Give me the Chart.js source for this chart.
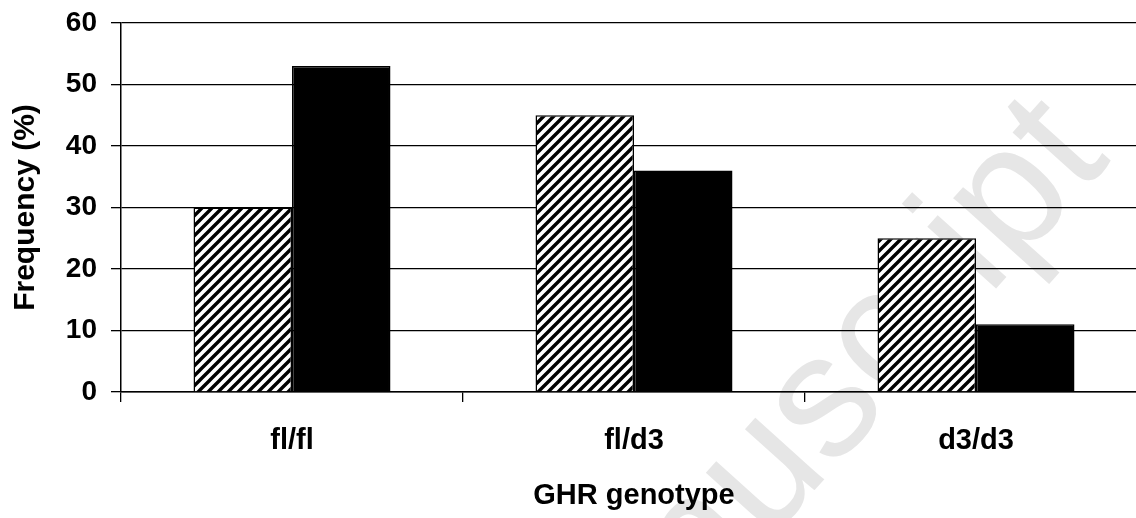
<!DOCTYPE html>
<html>
<head>
<meta charset="utf-8">
<script src="https://cdn.jsdelivr.net/npm/chart.js@4/dist/chart.umd.min.js"></script>
<style>
  html, body { margin: 0; padding: 0; background: #ffffff; overflow: hidden; }
  #wrap { position: relative; width: 1160px; height: 518px; }
</style>
</head>
<body>
<div id="wrap"><canvas id="c"></canvas></div>
<script>
// ---- data ----
const categories = ['fl/fl', 'fl/d3', 'd3/d3'];
const hatchedValues = [30, 45, 25];
const solidValues = [53, 36, 11];
const yTicks = [0, 10, 20, 30, 40, 50, 60];
const xTitle = 'GHR genotype';
const yTitle = 'Frequency (%)';
const watermarkText = 'Accepted Manuscript';

// ---- hatch pattern ----
function makeHatch() {
  const s = 10;
  const pc = document.createElement('canvas');
  pc.width = s; pc.height = s;
  const p = pc.getContext('2d');
  p.fillStyle = '#ffffff';
  p.fillRect(0, 0, s, s);
  p.strokeStyle = '#000000';
  p.lineWidth = 3.4;
  p.beginPath();
  p.moveTo(-2, s + 2); p.lineTo(s + 2, -2);
  p.moveTo(-2, 2); p.lineTo(2, -2);
  p.moveTo(s - 2, s + 2); p.lineTo(s + 2, s - 2);
  p.stroke();
  const ctx = document.getElementById('c').getContext('2d');
  return ctx.createPattern(pc, 'repeat');
}
const hatch = makeHatch();

const FONT = '"Liberation Sans", Arial, sans-serif';

const bgPlugin = {
  id: 'bgWatermark',
  beforeDraw(chart) {
    const ctx = chart.ctx;
    ctx.save();
    ctx.fillStyle = '#ffffff';
    ctx.fillRect(0, 0, chart.width, chart.height);
    ctx.translate(1112, 160);
    ctx.rotate(-48 * Math.PI / 180);
    ctx.font = '175px ' + FONT;
    ctx.fillStyle = '#e6e6e6';
    ctx.textAlign = 'right';
    ctx.textBaseline = 'alphabetic';
    ctx.fillText(watermarkText, 0, 0);
    ctx.restore();
  }
};

new Chart(document.getElementById('c'), {
  type: 'bar',
  data: {
    labels: categories,
    datasets: [
      {
        label: 'Hatched',
        data: hatchedValues,
        backgroundColor: hatch,
        borderColor: '#000000',
        borderWidth: 1.5,
        barPercentage: 1,
        categoryPercentage: 0.576
      },
      {
        label: 'Solid',
        data: solidValues,
        backgroundColor: '#000000',
        borderColor: '#000000',
        borderWidth: 1.5,
        barPercentage: 1,
        categoryPercentage: 0.576
      }
    ]
  },
  options: {
    responsive: true,
    maintainAspectRatio: false,
    animation: false,
    devicePixelRatio: 1,
    layout: { padding: { top: 23, right: 13, left: 0, bottom: 0 } },
    plugins: {
      legend: { display: false },
      tooltip: { enabled: false }
    },
    scales: {
      x: {
        afterFit(s) { s.height = 126; },
        grid: {
          display: true,
          drawOnChartArea: false,
          drawTicks: true,
          tickLength: 10,
          color: '#000000',
          lineWidth: 1.3,
          offset: true
        },
        border: { display: true, color: '#000000', width: 1.5 },
        ticks: {
          color: '#000000',
          padding: 22,
          font: { family: FONT, size: 29, weight: 'bold' }
        },
        title: {
          display: true,
          text: xTitle,
          color: '#000000',
          padding: { top: 0, bottom: 5 },
          font: { family: FONT, size: 29, weight: 'bold' }
        }
      },
      y: {
        min: 0,
        max: 60,
        afterFit(s) { s.width = 121; s.paddingTop = 0; s.paddingBottom = 0; },
        afterBuildTicks(s) { s.ticks = yTicks.map(v => ({ value: v })); },
        grid: {
          color: '#000000',
          lineWidth: 1.3,
          drawTicks: true,
          tickLength: 10
        },
        border: { display: true, color: '#000000', width: 1.5 },
        ticks: {
          color: '#000000',
          padding: 14,
          font: { family: FONT, size: 28, weight: 'bold' }
        },
        title: {
          display: true,
          text: yTitle,
          color: '#000000',
          padding: { top: 8, bottom: 0 },
          font: { family: FONT, size: 30, weight: 'bold' }
        }
      }
    }
  },
  plugins: [bgPlugin]
});
</script>
</body>
</html>
